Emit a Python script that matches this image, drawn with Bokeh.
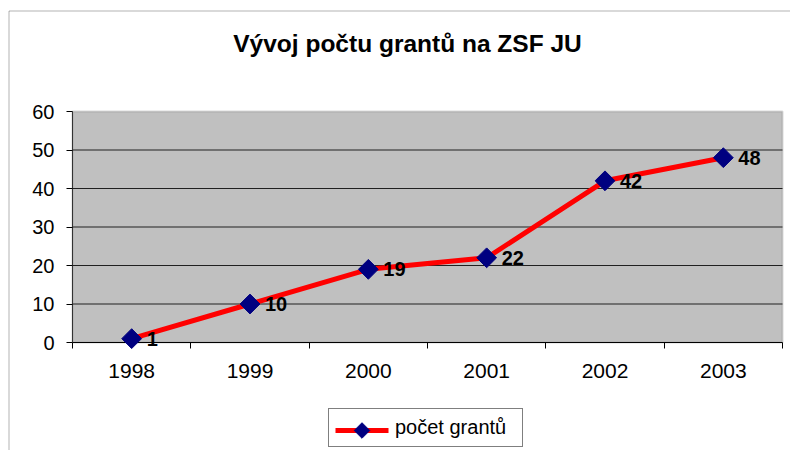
import numpy as np
from bokeh.plotting import figure
from bokeh.models import (ColumnDataSource, LabelSet, Label, Legend, LegendItem,
                          FixedTicker, BoxAnnotation, Range1d)
from bokeh.embed import file_html
from bokeh.resources import INLINE
from bokeh.core.properties import value

years = ["1998", "1999", "2000", "2001", "2002", "2003"]
counts = [1, 10, 19, 22, 42, 48]
y_ticks = [0, 10, 20, 30, 40, 50, 60]
title_text = "Vývoj počtu grantů na ZSF JU"
series_name = "počet grantů"

FONT = "Liberation Sans"
LINE_COLOR = "#FF0000"
MARK_COLOR = "#000080"

# layout (pixels on the canvas)
W, H = 790, 450
PL, PR, PT, PB = 72, 782, 111, 342          # plot-area edges
LEG_X, LEG_B, LEG_PAD, LEG_GW, LEG_GH = 328, 3, 7, 53, 20

n = len(years)
ymin, ymax = y_ticks[0], y_ticks[-1]
sx = (PR - PL) / n
sy = (PB - PT) / (ymax - ymin)

xpos = [i + 0.5 for i in range(n)]
src = ColumnDataSource(dict(x=xpos, y=counts, lab=[str(c) for c in counts]))

p = figure(width=W, height=H, output_backend="svg", toolbar_location=None,
           x_range=Range1d(-PL / sx, n + (W - PR) / sx),
           y_range=Range1d(ymin - (H - PB) / sy, ymax + PT / sy),
           min_border=0)
p.extra_x_ranges = {"px": Range1d(0, W)}
p.extra_y_ranges = {"px": Range1d(H, 0)}
p.background_fill_color = "white"
p.border_fill_color = "white"
p.outline_line_color = None
p.xgrid.visible = False
p.ygrid.visible = False

# plot area
p.add_layout(BoxAnnotation(left=0, right=n, bottom=ymin, top=ymax,
                           fill_color="#C0C0C0", fill_alpha=1,
                           line_color="#808080", line_width=2, level="underlay"))
grid_y = y_ticks[1:-1]
p.segment(x0=[0] * len(grid_y), x1=[n] * len(grid_y), y0=grid_y, y1=grid_y,
          line_color="#202020", line_width=1)

# x axis: labels at category centres, ticks at boundaries
xa = p.xaxis[0]
xa.fixed_location = ymin
xa.bounds = (0, n)
xa.ticker = FixedTicker(ticks=xpos, minor_ticks=list(range(n + 1)))
xa.major_label_overrides = {x: y for x, y in zip(xpos, years)}
xa.major_tick_out = 0
xa.major_tick_in = 0
xa.minor_tick_out = 6
xa.minor_tick_in = 0
xa.minor_tick_line_color = "black"
xa.axis_line_color = "black"
xa.major_label_standoff = 15
xa.major_label_text_font = FONT
xa.major_label_text_font_size = "21px"
xa.major_label_text_color = "black"

ya = p.yaxis[0]
ya.fixed_location = 0
ya.bounds = (ymin, ymax)
ya.ticker = FixedTicker(ticks=y_ticks)
ya.major_tick_out = 6
ya.major_tick_in = 0
ya.minor_tick_line_color = None
ya.axis_line_color = "#333333"
ya.major_tick_line_color = "black"
ya.major_label_standoff = 12
ya.major_label_text_font = FONT
ya.major_label_text_font_size = "20px"
ya.major_label_text_color = "black"

line_r = p.line("x", "y", source=src, line_color=LINE_COLOR, line_width=5)
pts_r = p.scatter("x", "y", source=src, marker="square", angle=np.pi / 4,
                  size=14, fill_color=MARK_COLOR, line_color=MARK_COLOR,
                  level="overlay")

labels = LabelSet(x="x", y="y", text="lab", source=src, x_offset=15, y_offset=0,
                  text_baseline="middle", text_align="left",
                  text_font=value(FONT), text_font_style="bold",
                  text_font_size="20px", text_color="black")
p.add_layout(labels)

p.add_layout(Label(x=407, y=43, x_units="canvas", y_units="canvas", text=title_text,
                   text_align="center", text_baseline="alphabetic", text_font=FONT,
                   text_font_style="bold", text_font_size="24.5px",
                   text_color="black"))

p.add_layout(BoxAnnotation(left=8.5, top=10.5, right=3000, bottom=3000,
                           left_units="canvas", right_units="canvas",
                           top_units="canvas", bottom_units="canvas",
                           fill_color=None, fill_alpha=0, line_color="black",
                           line_width=1, level="overlay"))

# legend: box + label from Legend, key (line + rotated square) drawn below it
key_r = p.line(x=[], y=[], line_alpha=0)
legend = Legend(items=[LegendItem(label=series_name, renderers=[key_r])],
                location=(LEG_X, LEG_B), label_text_font=FONT,
                label_text_font_size="20px", label_text_color="black",
                glyph_width=LEG_GW, glyph_height=LEG_GH, label_height=LEG_GH,
                label_width=120, padding=LEG_PAD, margin=0, spacing=0,
                label_standoff=6, border_line_color="black", border_line_width=1,
                background_fill_alpha=0)
p.add_layout(legend)

kx0 = LEG_X + LEG_PAD
ky = H - LEG_B - LEG_PAD - LEG_GH / 2
p.segment(x0=[kx0], x1=[kx0 + LEG_GW], y0=[ky], y1=[ky], x_range_name="px",
          y_range_name="px", line_color=LINE_COLOR, line_width=5)
p.scatter(x=[kx0 + LEG_GW / 2], y=[ky], x_range_name="px", y_range_name="px",
          marker="square", angle=np.pi / 4, size=11, fill_color=MARK_COLOR,
          line_color=MARK_COLOR)

open("out.html", "w").write(file_html(p, INLINE))
